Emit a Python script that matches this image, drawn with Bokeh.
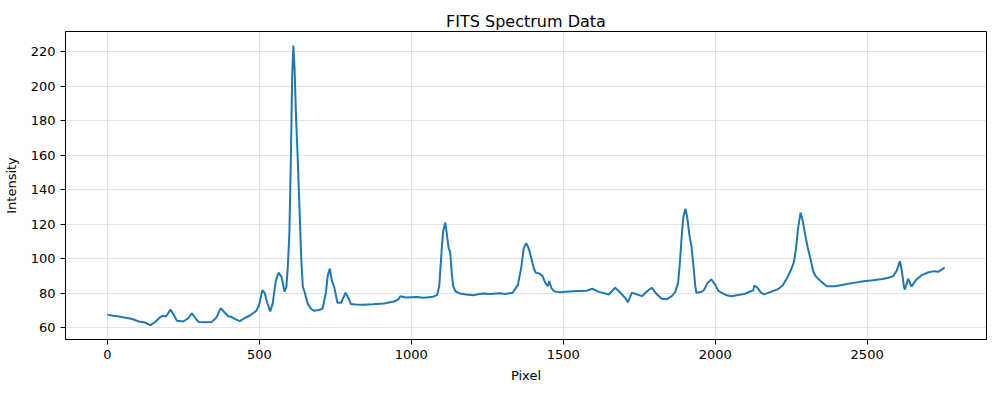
from bokeh.plotting import figure
from bokeh.models import Range1d, FixedTicker
from bokeh.embed import file_html
from bokeh.resources import INLINE

# Spectrum samples (pixel, intensity)
pixel = [
    0, 19, 39, 60, 79, 104, 124, 142, 158, 173, 183, 193, 208, 220, 229, 250,
    266, 278, 290, 300, 322, 344, 359, 373, 385, 398, 409, 421, 436, 451, 469,
    490, 499, 510, 518, 526, 536, 544, 554, 563, 573, 583, 589, 594, 599, 604,
    608, 612, 616, 621, 626, 632, 638, 643, 650, 659, 670, 681, 695, 708, 719,
    725, 732, 739, 746, 757, 769, 784, 794, 801, 817, 843, 873, 910, 943, 958,
    964, 982, 1018, 1040, 1073, 1085, 1092, 1100, 1105, 1112, 1118, 1123, 1128,
    1133, 1138, 1146, 1160, 1181, 1204, 1215, 1236, 1261, 1290, 1310, 1334,
    1351, 1362, 1370, 1378, 1384, 1389, 1398, 1404, 1410, 1421, 1432, 1441,
    1449, 1454, 1461, 1470, 1489, 1519, 1548, 1578, 1595, 1618, 1650, 1671,
    1690, 1705, 1713, 1726, 1740, 1759, 1775, 1791, 1805, 1824, 1840, 1857,
    1868, 1878, 1884, 1889, 1895, 1902, 1908, 1915, 1922, 1929, 1934, 1938,
    1950, 1962, 1975, 1987, 2000, 2010, 2020, 2035, 2053, 2075, 2095, 2115,
    2125, 2129, 2140, 2150, 2161, 2183, 2205, 2222, 2237, 2248, 2259, 2266,
    2273, 2281, 2288, 2296, 2305, 2314, 2322, 2330, 2347, 2367, 2395, 2425,
    2455, 2488, 2520, 2550, 2570, 2586, 2597, 2608, 2615, 2621, 2624, 2635,
    2646, 2660, 2680, 2700, 2720, 2735, 2755,
]
intensity = [
    67.6, 67.0, 66.5, 65.8, 65.2, 63.6, 63.0, 61.5, 63.5, 66.0, 67.0, 66.5,
    70.5, 67.0, 64.0, 63.6, 65.5, 68.3, 65.5, 63.3, 63.2, 63.4, 66.0, 71.4,
    69.0, 66.7, 66.2, 65.0, 63.8, 65.5, 67.1, 69.8, 73.0, 81.8, 80.0, 74.5,
    69.5, 74.0, 87.0, 91.9, 89.5, 81.0, 83.5, 96.0, 115.0, 160.0, 205.0,
    223.5, 210.0, 181.0, 160.0, 130.0, 100.0, 84.0, 80.0, 74.0, 71.0, 69.8,
    70.3, 71.0, 80.3, 90.0, 94.3, 87.0, 84.0, 74.5, 74.5, 80.3, 77.0, 73.8,
    73.5, 73.3, 73.6, 74.1, 75.2, 76.5, 78.2, 77.5, 77.8, 77.4, 78.0, 79.0,
    84.0, 105.0, 116.0, 120.9, 113.0, 106.0, 104.0, 92.0, 84.0, 81.0, 79.9,
    79.3, 78.8, 79.3, 79.8, 79.6, 80.0, 79.6, 80.3, 85.0, 95.0, 106.0, 109.0,
    107.0, 104.4, 98.0, 94.0, 91.9, 91.5, 89.9, 86.0, 84.1, 87.0, 83.0, 81.2,
    80.5, 81.0, 81.3, 81.5, 82.6, 80.8, 79.3, 83.2, 80.0, 77.0, 74.8, 80.3,
    79.5, 78.3, 81.0, 83.2, 80.0, 76.8, 76.5, 78.3, 80.5, 86.0, 98.0, 111.0,
    124.0, 129.0, 124.0, 114.0, 107.0, 95.0, 85.0, 80.3, 80.5, 81.5, 86.0,
    88.0, 85.0, 81.5, 80.3, 79.0, 78.3, 79.0, 79.5, 81.0, 81.5, 84.5, 83.0,
    80.5, 79.3, 80.8, 82.2, 84.5, 89.0, 93.0, 98.0, 106.0, 118.0, 126.7,
    122.0, 114.0, 106.0, 99.6, 93.0, 90.0, 87.0, 84.1, 84.0, 85.0, 86.0,
    87.0, 87.5, 88.2, 89.0, 89.9, 93.0, 98.6, 92.0, 84.0, 82.2, 88.4, 83.8,
    87.5, 90.5, 92.0, 92.8, 92.5, 94.8,
]
x_ticks = [0, 500, 1000, 1500, 2000, 2500]
y_ticks = [60, 80, 100, 120, 140, 160, 180, 200, 220]

FONT = "DejaVu Sans"

p = figure(
    width=989, height=385,
    output_backend="svg", toolbar_location=None,
    x_range=Range1d(-137.75, 2892.75),
    y_range=Range1d(53.2, 231.6),
    min_border_left=60, min_border_right=3,
    min_border_top=31, min_border_bottom=45,
    title="FITS Spectrum Data",
)
p.title.align = "center"
p.title.text_font = FONT
p.title.text_font_size = "16px"
p.title.text_font_style = "normal"
p.title.text_color = "black"
p.title.standoff = 0
p.title.vertical_align = "middle"

p.line(pixel, intensity, line_color="#1f77b4", line_width=2)

p.xaxis.ticker = FixedTicker(ticks=x_ticks)
p.yaxis.ticker = FixedTicker(ticks=y_ticks)
p.xaxis.axis_label = "Pixel"
p.yaxis.axis_label = "Intensity"
for ax in (p.xaxis, p.yaxis):
    ax.axis_label_text_font = FONT
    ax.axis_label_text_font_size = "13px"
    ax.axis_label_text_font_style = "normal"
    ax.axis_label_text_color = "black"
    ax.major_label_text_font = FONT
    ax.major_label_text_font_size = "13px"
    ax.major_label_text_color = "black"
    ax.major_tick_out = 5
    ax.major_tick_in = 0
    ax.minor_tick_out = 0
    ax.minor_tick_in = 0
    ax.axis_line_color = "black"
    ax.major_tick_line_color = "black"
    ax.major_label_standoff = 5
p.yaxis.axis_label_standoff = 9
p.xaxis.axis_label_standoff = 6

p.outline_line_color = "black"
p.outline_line_width = 1
p.outline_line_alpha = 1

p.xgrid.ticker = FixedTicker(ticks=x_ticks)
p.ygrid.ticker = FixedTicker(ticks=y_ticks)
p.grid.grid_line_color = "#b0b0b0"
p.grid.grid_line_alpha = 0.35
p.grid.grid_line_width = 1

p.background_fill_color = "white"
p.border_fill_color = "white"

open("out.html", "w").write(file_html(p, INLINE))
